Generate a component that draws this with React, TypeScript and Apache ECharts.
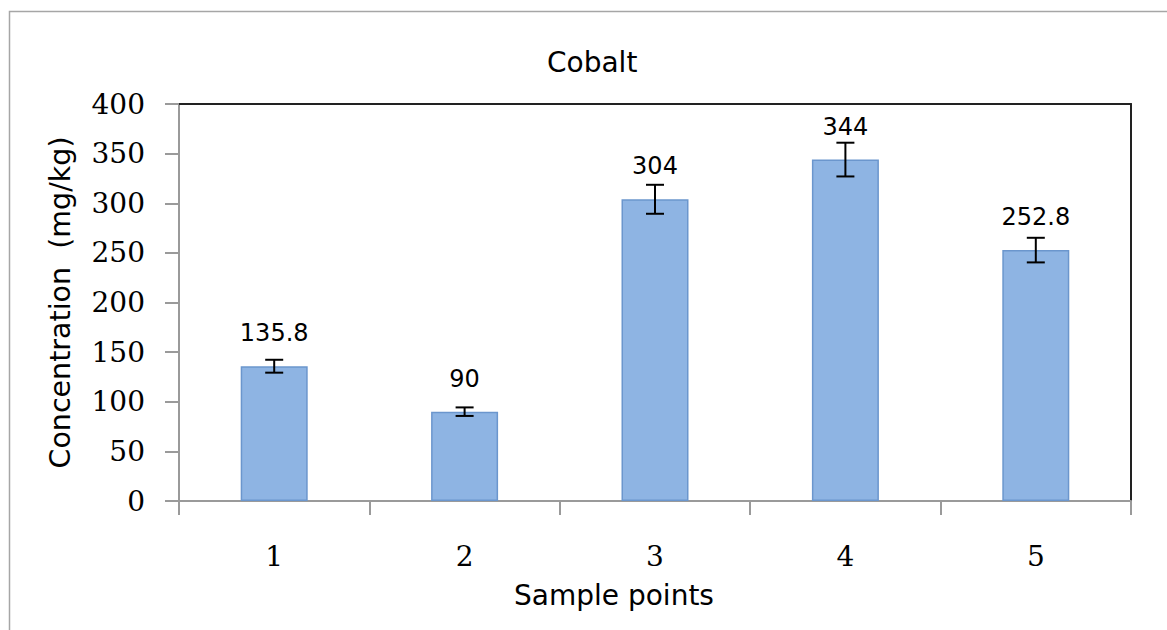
import React, { useEffect, useRef } from "react";
import * as echarts from "echarts";

const categories = ["1", "2", "3", "4", "5"];
const values = [135.8, 90, 304, 344, 252.8];
const errors = [6.5, 4.3, 14.6, 17, 12.4];
const yTicks = { min: 0, max: 400, interval: 50 };
const titleText = "Cobalt";
const xName = "Sample points";
const yName = "Concentration  (mg/kg)";

export default function App() {
  const ref = useRef<HTMLDivElement>(null);
  useEffect(() => {
    const chart = echarts.init(ref.current!, null, { renderer: "svg" });
    const errData = values.map((v, i) => [i, v - errors[i], v + errors[i]]);
    const sans = "DejaVu Sans";
    const serif = "DejaVu Serif";
    chart.setOption({
      animation: false,
      backgroundColor: "#ffffff",
      title: {
        text: titleText,
        left: 542,
        top: 43,
        textStyle: { fontFamily: sans, fontSize: 28, fontWeight: "normal", color: "#000" },
      },
      graphic: [
        {
          type: "rect",
          shape: { x: 9.5, y: 11.5, width: 1300, height: 800 },
          style: { fill: "none", stroke: "#a6a6a6", lineWidth: 1.5 },
          silent: true,
        },
      ],
      grid: { left: 179, top: 104, right: 36, bottom: 129, containLabel: false },
      xAxis: [
        {
          type: "category",
          data: categories,
          position: "bottom",
          axisLine: { show: true, onZero: false, lineStyle: { color: "#9a9a9a", width: 2 } },
          axisTick: { show: true, length: 14, lineStyle: { color: "#9a9a9a", width: 2 } },
          axisLabel: { fontFamily: serif, fontSize: 28, color: "#000", margin: 41 },
          name: xName,
          nameLocation: "middle",
          nameGap: 80,
          nameTextStyle: { fontFamily: sans, fontSize: 28, color: "#000", padding: [0, 82, 0, 0] },
        },
        {
          type: "category",
          data: categories,
          position: "top",
          axisLine: { show: true, onZero: false, lineStyle: { color: "#222", width: 2 } },
          axisTick: { show: false },
          axisLabel: { show: false },
        },
      ],
      yAxis: [
        {
          type: "value",
          min: yTicks.min,
          max: yTicks.max,
          interval: yTicks.interval,
          position: "left",
          axisLine: { show: true, onZero: false, lineStyle: { color: "#9a9a9a", width: 2 } },
          axisTick: { show: true, length: 14, lineStyle: { color: "#9a9a9a", width: 2 } },
          axisLabel: { fontFamily: serif, fontSize: 28, color: "#000", margin: 34 },
          splitLine: { show: false },
          name: yName,
          nameLocation: "middle",
          nameGap: 104,
          nameRotate: 90,
          nameTextStyle: { fontFamily: sans, fontSize: 28.5, color: "#000" },
        },
        {
          type: "value",
          min: yTicks.min,
          max: yTicks.max,
          interval: yTicks.interval,
          position: "right",
          axisLine: { show: true, onZero: false, lineStyle: { color: "#222", width: 2 } },
          axisTick: { show: false },
          axisLabel: { show: false },
          splitLine: { show: false },
        },
      ],
      series: [
        {
          type: "bar",
          data: values,
          barWidth: 67,
          itemStyle: { color: "#8eb4e3", borderColor: "#6b96cd", borderWidth: 1.5 },
          label: {
            show: true,
            position: "top",
            distance: 21,
            fontFamily: sans,
            fontSize: 24,
            lineHeight: 24,
            color: "#000",
          },
        },
        {
          type: "custom",
          data: errData,
          z: 10,
          renderItem: (params: any, api: any) => {
            const x = api.value(0);
            const lo = api.coord([x, api.value(1)]);
            const hi = api.coord([x, api.value(2)]);
            const hw = 9;
            const style = { stroke: "#000", lineWidth: 2 };
            return {
              type: "group",
              children: [
                { type: "line", shape: { x1: lo[0], y1: lo[1], x2: hi[0], y2: hi[1] }, style },
                { type: "line", shape: { x1: lo[0] - hw, y1: lo[1], x2: lo[0] + hw, y2: lo[1] }, style },
                { type: "line", shape: { x1: hi[0] - hw, y1: hi[1], x2: hi[0] + hw, y2: hi[1] }, style },
              ],
            };
          },
        },
      ],
    });
    return () => chart.dispose();
  }, []);
  return (
    <div
      ref={ref}
      style={{ position: "fixed", left: 0, top: 0, width: 1167, height: 630 }}
    />
  );
}
